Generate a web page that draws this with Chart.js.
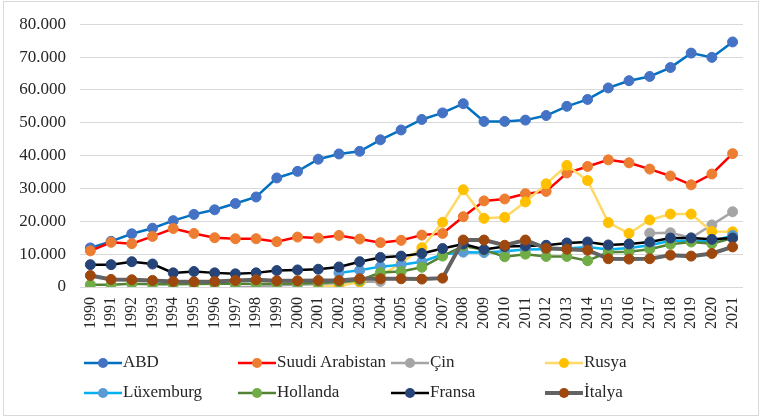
<!DOCTYPE html>
<html>
<head>
<meta charset="utf-8">
<script src="https://cdn.jsdelivr.net/npm/chart.js@4/dist/chart.umd.min.js"></script>
<style>
  body { margin: 0; background: #fff; }
  #frame { position: absolute; left: 3px; top: 1px; width: 754px; height: 413px; border: 1px solid #d9d9d9; }
  #wrap { position: absolute; left: 0; top: 0; width: 762px; height: 418px; }
  .leg { position: absolute; font-family: "Liberation Serif", serif; font-size: 17px; color: #262626; height: 20px; line-height: 20px; white-space: nowrap; }
  .leg canvas { vertical-align: middle; margin-right: 1px; }
</style>
</head>
<body>
<div id="frame"></div>
<div id="wrap"><canvas id="chart" width="762" height="418"></canvas></div>
<div id="legend"></div>
<script>
const years = ['1990','1991','1992','1993','1994','1995','1996','1997','1998','1999','2000','2001','2002','2003','2004','2005',
               '2006','2007','2008','2009','2010','2011','2012','2013','2014','2015','2016','2017','2018','2019','2020','2021'];

const abd = [11900, 13900, 16200, 17900, 20200, 22100, 23500, 25400, 27400, 33200, 35200, 38900, 40500, 41300, 44800, 47800,
             51000, 53000, 55800, 50400, 50400, 50800, 52200, 55000, 57100, 60600, 62800, 64100, 66800, 71200, 69900, 74600];
const suudi = [11000, 13600, 13200, 15400, 17800, 16300, 15000, 14700, 14700, 13800, 15200, 14900, 15700, 14600, 13500, 14200,
               15800, 16300, 21400, 26200, 26800, 28400, 29100, 34700, 36700, 38700, 37800, 35900, 33800, 31100, 34400, 40600];
const cin = [null, null, null, null, null, null, null, 0, 100, 500, 700, 900, 1200, 1500, 1700, null,
             null, null, null, null, null, null, null, null, null, null, null, 16400, 16500, 15000, 18900, 22900];
const rusya = [null, null, null, null, null, null, null, null, null, null, null, 200, 300, 1500, 3500, 7200,
               11950, 19700, 29600, 20900, 21200, 25900, 31400, 37000, 32400, 19600, 16300, 20400, 22200, 22200, 16900, 16800];
const luks = [null, null, null, null, null, null, null, null, null, null, null, null, 4300, 5100, 6200, 6800,
              7700, 9900, 10600, 10500, 10900, 11400, 11500, 11700, 12200, 11400, 11900, 12700, 14100, 14100, 13900, 15700];
const hollanda = [700, 700, 1000, 800, 800, 900, 1000, 1000, 1000, 1000, 1100, 1200, 1500, 2000, 4400, 4700,
                  6000, 9400, 12500, 11300, 9200, 10000, 9300, 9300, 8000, 10600, 10700, 11500, 13000, 13700, 13200, 14900];
const fransa = [6800, 6800, 7700, 7000, 4300, 4700, 4300, 4000, 4300, 5000, 5200, 5400, 6100, 7700, 9000, 9400,
                10200, 11700, 13100, 11400, 12300, 12500, 12700, 13400, 13700, 12800, 13100, 13700, 14900, 14900, 14500, 14900];
const italya = [3500, 2300, 2200, 2000, 1700, 1600, 1700, 2000, 2200, 1900, 1900, 2000, 2000, 2500, 2500, 2500,
                2400, 2700, 14300, 14300, 12700, 14300, 11800, 11500, 11200, 8600, 8500, 8600, 9700, 9400, 10200, 12200];

const seriesNames = ['ABD', 'Suudi Arabistan', 'Çin', 'Rusya', 'Lüxemburg', 'Hollanda', 'Fransa', 'İtalya'];
const seriesData = [abd, suudi, cin, rusya, luks, hollanda, fransa, italya];
const lineColors = ['#0070C0', '#FF0000', '#A5A5A5', '#FFD966', '#00B0F0', '#548235', '#000000', '#636363'];
const markerColors = ['#4472C4', '#ED7D31', '#A5A5A5', '#FFC000', '#5B9BD5', '#70AD47', '#264478', '#9E480E'];
const lineWidths = [2.5, 2.5, 2.5, 2.5, 2.5, 2.5, 2.5, 4];

function fmt(v) {
    return String(v).replace(/\B(?=(\d{3})+(?!\d))/g, '.');
}

const datasets = seriesNames.map((name, i) => ({
    label: name,
    data: seriesData[i],
    borderColor: lineColors[i],
    borderWidth: lineWidths[i],
    pointBackgroundColor: markerColors[i],
    pointBorderColor: markerColors[i],
    pointBorderWidth: 1,
    pointRadius: 5,
    tension: 0,
    spanGaps: false,
    order: seriesNames.length - i   // later series on top, like Excel
}));

const xFont = { family: '"Liberation Serif", serif', size: 16 };
const yFont = { family: '"Liberation Serif", serif', size: 17 };

new Chart(document.getElementById('chart'), {
    type: 'line',
    data: { labels: years, datasets: datasets },
    options: {
        responsive: false,
        animation: false,
        layout: { padding: { left: 0, right: 13, top: 19, bottom: 81 } },
        plugins: { legend: { display: false }, tooltip: { enabled: false } },
        scales: {
            x: {
                offset: true,
                grid: { display: false, drawTicks: false },
                border: { color: '#d9d9d9' },
                ticks: { color: '#262626', font: xFont, maxRotation: 90, minRotation: 90, autoSkip: false, padding: 10 },
                afterFit: s => { s.height = 50; }
            },
            y: {
                min: 0, max: 80000,
                grid: { color: '#d9d9d9', drawTicks: false },
                border: { display: false },
                ticks: { stepSize: 10000, color: '#262626', font: yFont, padding: 14, callback: v => fmt(v) },
                afterFit: s => { s.width = 80; }
            }
        }
    }
});

// legend laid out like the Excel one: 4 fixed columns, 2 rows
const legendEl = document.getElementById('legend');
const colX = [84, 238, 391, 545];
const rowY = [352, 382];
seriesNames.forEach((name, i) => {
    const item = document.createElement('div');
    item.className = 'leg';
    item.style.left = colX[i % 4] + 'px';
    item.style.top = rowY[Math.floor(i / 4)] + 'px';
    const c = document.createElement('canvas');
    c.width = 38; c.height = 14;
    const g = c.getContext('2d');
    g.strokeStyle = lineColors[i];
    g.lineWidth = lineWidths[i];
    g.beginPath(); g.moveTo(0, 7); g.lineTo(38, 7); g.stroke();
    g.fillStyle = markerColors[i];
    g.beginPath(); g.arc(19, 7, 5, 0, Math.PI * 2); g.fill();
    item.appendChild(c);
    item.appendChild(document.createTextNode(name));
    legendEl.appendChild(item);
});
</script>
</body>
</html>
